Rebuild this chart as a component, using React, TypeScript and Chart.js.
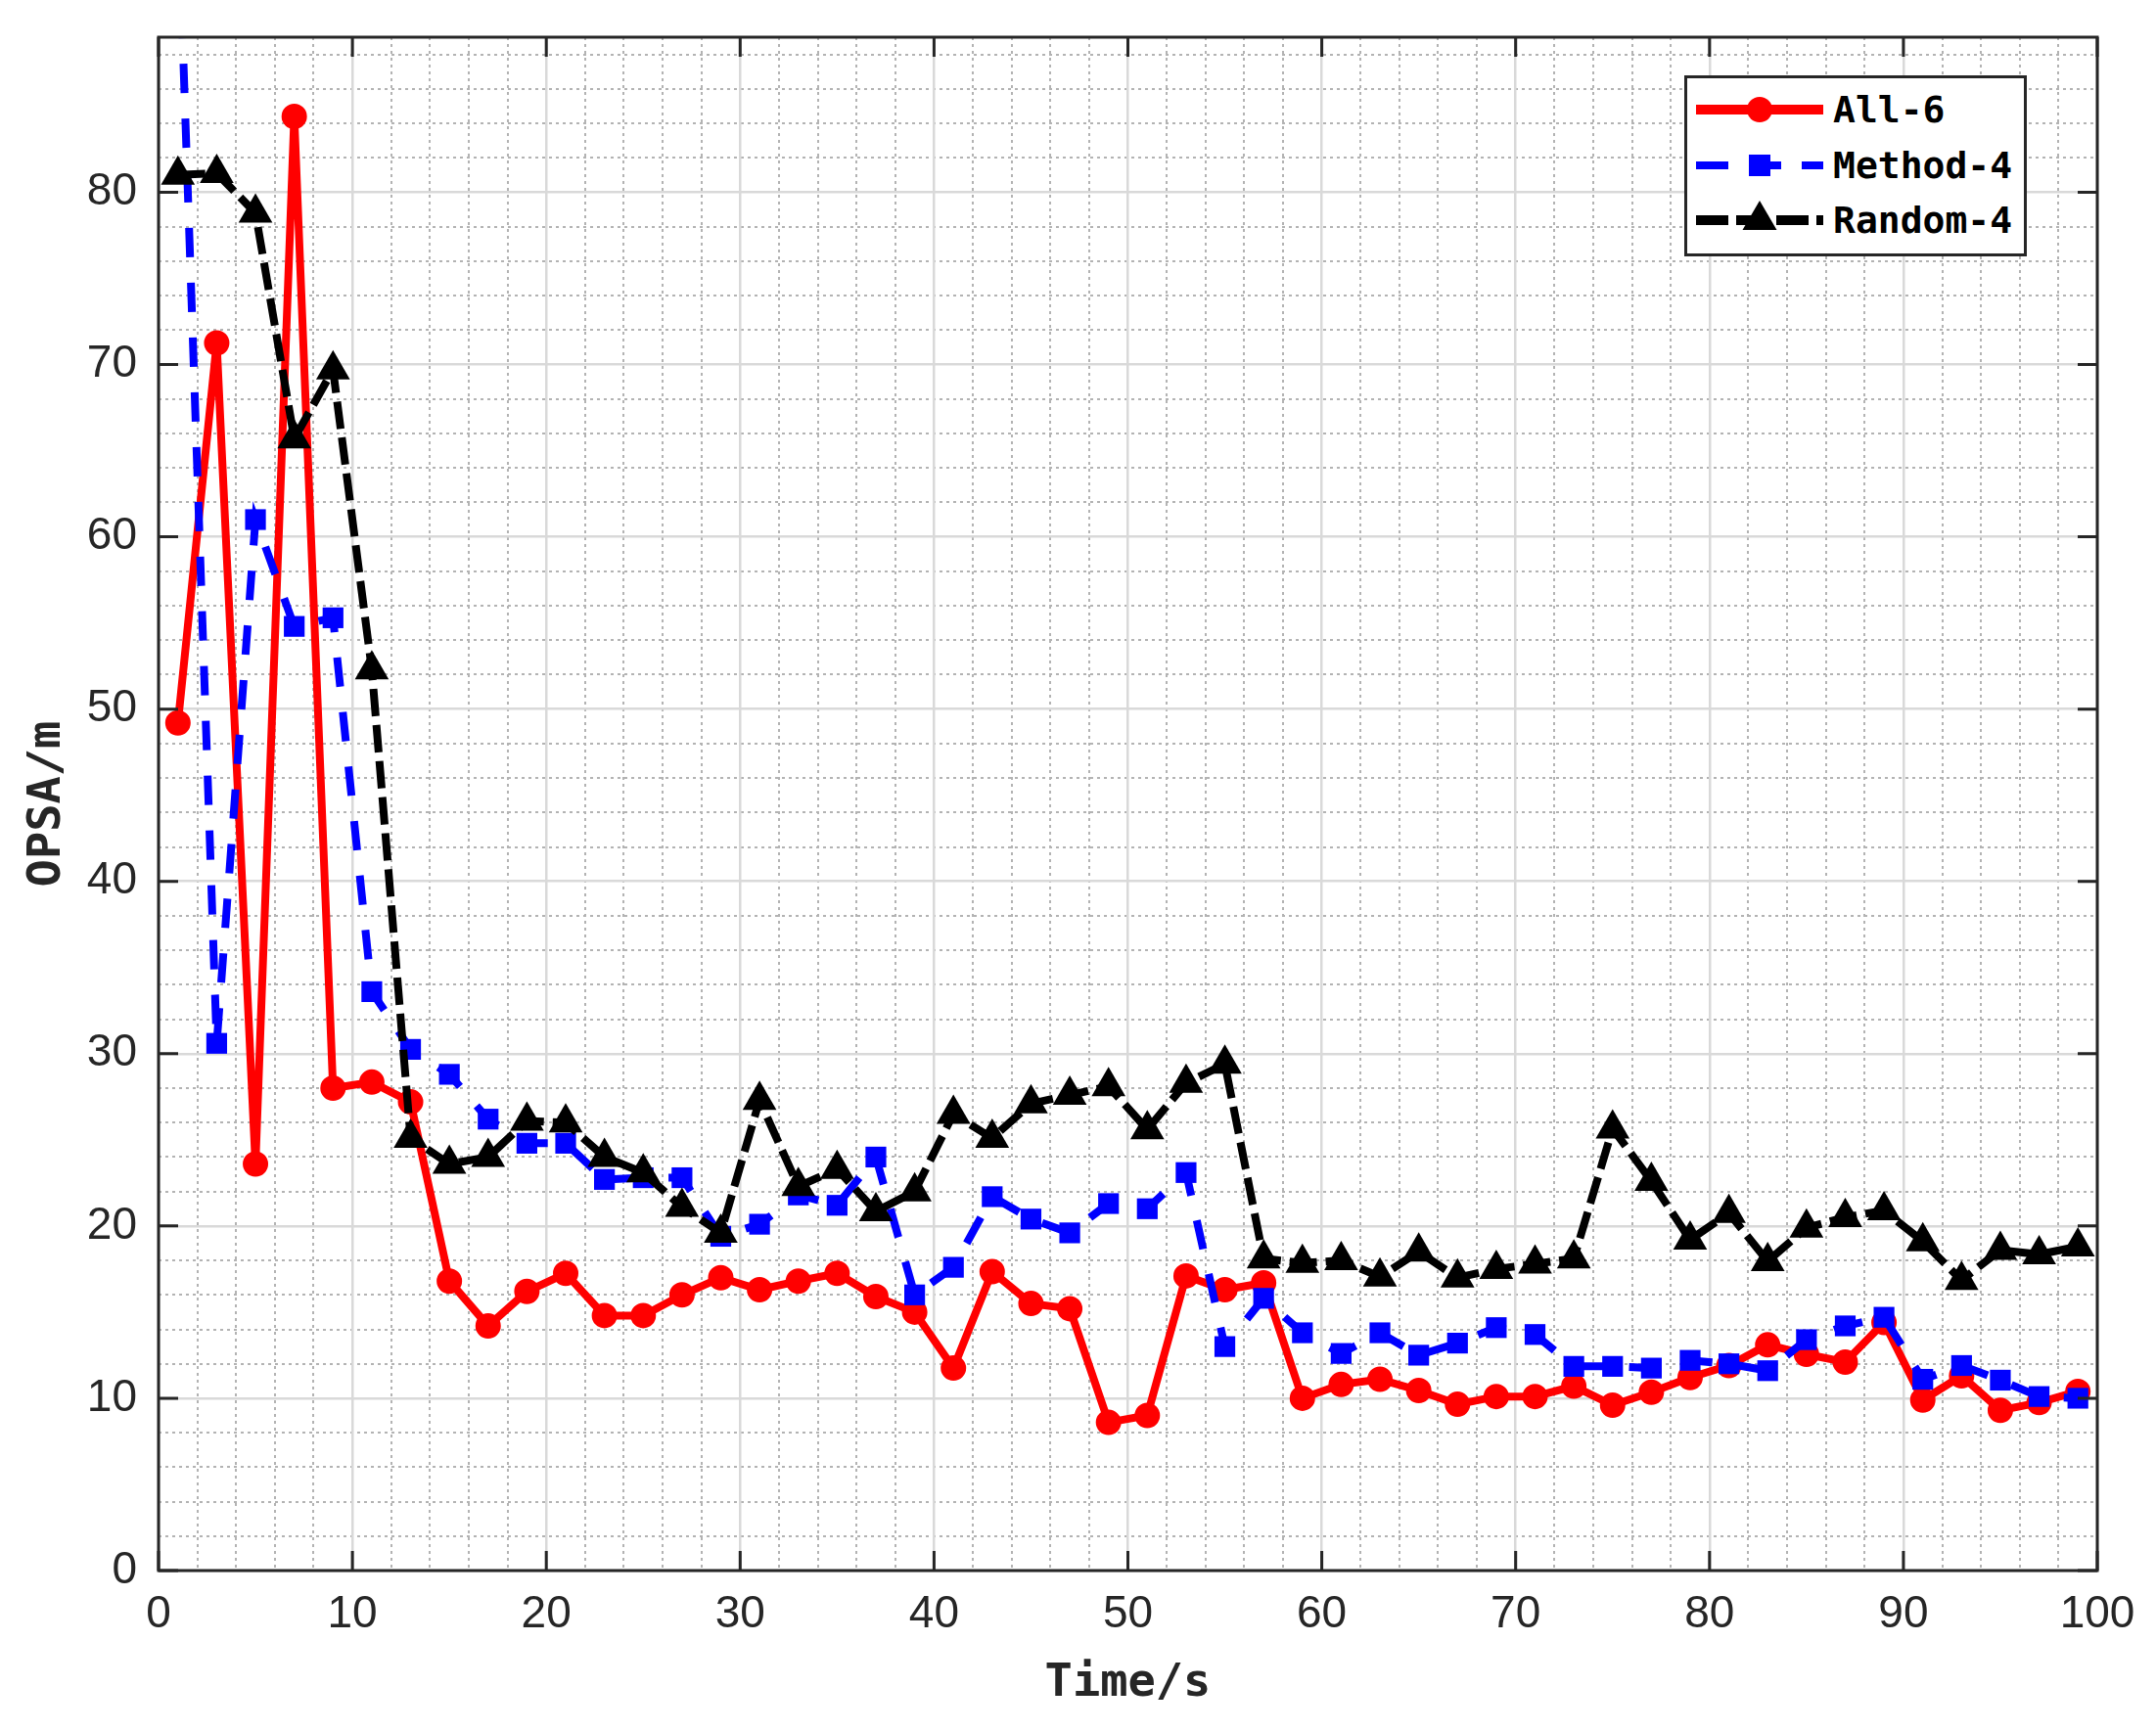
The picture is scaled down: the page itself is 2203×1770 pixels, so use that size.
import React, { useRef, useEffect } from "react";
import { Chart, registerables } from "chart.js";

Chart.register(...registerables);

// time axis (s)
const time = [
  1, 3, 5, 7, 9, 11, 13, 15, 17, 19, 21, 23, 25, 27, 29, 31, 33, 35, 37, 39,
  41, 43, 45, 47, 49, 51, 53, 55, 57, 59, 61, 63, 65, 67, 69, 71, 73, 75, 77, 79,
  81, 83, 85, 87, 89, 91, 93, 95, 97, 99,
];

const all6 = [
  49.2, 71.25, 23.6, 84.4, 28.0, 28.35, 27.2, 16.8, 14.2, 16.2,
  17.25, 14.8, 14.8, 16.0, 17.0, 16.3, 16.8, 17.25, 15.9, 15.0,
  11.75, 17.35, 15.5, 15.2, 8.6, 9.0, 17.1, 16.3, 16.7, 10.0,
  10.8, 11.1, 10.45, 9.65, 10.1, 10.1, 10.7, 9.6, 10.35, 11.2,
  11.9, 13.1, 12.55, 12.1, 14.4, 9.9, 11.3, 9.3, 9.75, 10.4,
];

const method4 = [
  97.0, 30.6, 61.0, 54.8, 55.3, 33.6, 30.25, 28.8, 26.2, 24.8,
  24.8, 22.7, 22.8, 22.8, 19.4, 20.1, 21.8, 21.2, 24.0, 16.0,
  17.6, 21.7, 20.4, 19.6, 21.3, 21.0, 23.1, 13.0, 15.8, 13.8,
  12.6, 13.8, 12.5, 13.2, 14.1, 13.7, 11.85, 11.85, 11.75, 12.2,
  12.0, 11.6, 13.4, 14.2, 14.7, 11.1, 11.9, 11.05, 10.1, 10.0,
];

const random4 = [
  81.0, 81.1, 78.8, 65.7, 69.7, 52.3, 25.1, 23.6, 24.0, 26.1,
  26.0, 24.0, 23.1, 21.1, 19.6, 27.3, 22.3, 23.3, 20.85, 22.0,
  26.5, 25.1, 27.1, 27.6, 28.1, 25.6, 28.3, 29.4, 18.1, 17.85,
  18.0, 17.05, 18.5, 17.0, 17.5, 17.8, 18.1, 25.65, 22.6, 19.2,
  20.75, 17.95, 19.9, 20.5, 20.9, 19.1, 16.85, 18.6, 18.35, 18.8,
];

const xTicks = [0, 10, 20, 30, 40, 50, 60, 70, 80, 90, 100];
const yTicks = [0, 10, 20, 30, 40, 50, 60, 70, 80];

const W = 2203;
const H = 1770;
const AXIS = "#262626";
const MONO = "'DejaVu Sans Mono', monospace";

// box + inward ticks like matlab
const framePlugin = {
  id: "frame",
  afterDatasetsDraw(chart: any) {
    const { ctx, chartArea: a, scales } = chart;
    ctx.save();
    ctx.strokeStyle = AXIS;
    ctx.lineWidth = 3;
    ctx.beginPath();
    xTicks.forEach((v) => {
      const px = scales.x.getPixelForValue(v);
      ctx.moveTo(px, a.bottom);
      ctx.lineTo(px, a.bottom - 20);
      ctx.moveTo(px, a.top);
      ctx.lineTo(px, a.top + 20);
    });
    yTicks.forEach((v) => {
      const py = scales.y.getPixelForValue(v);
      ctx.moveTo(a.left, py);
      ctx.lineTo(a.left + 20, py);
      ctx.moveTo(a.right, py);
      ctx.lineTo(a.right - 20, py);
    });
    ctx.stroke();
    ctx.strokeRect(a.left, a.top, a.right - a.left, a.bottom - a.top);
    ctx.restore();
  },
};

const minorGrid = (ctx: any) =>
  ctx.tick && ctx.tick.value % 10 === 0 ? "rgba(0,0,0,0)" : "#b3b3b3";

const noPad = (s: any) => {
  s.paddingTop = 0;
  s.paddingBottom = 0;
  s.paddingLeft = 0;
  s.paddingRight = 0;
};

const Legend = () => {
  const row = (top: number, sample: React.ReactNode, label: string) => (
    <div style={{ position: "absolute", left: 0, top, width: "100%", height: 40 }}>
      <svg width={130} height={40} style={{ position: "absolute", left: 9, top: 0 }}>
        {sample}
      </svg>
      <span
        style={{
          position: "absolute",
          left: 149,
          top: 0,
          lineHeight: "40px",
          fontFamily: MONO,
          fontWeight: "bold",
          fontSize: 38,
          color: "#000",
          whiteSpace: "nowrap",
        }}
      >
        {label}
      </span>
    </div>
  );
  return (
    <div
      style={{
        position: "absolute",
        left: 1721,
        top: 77,
        width: 350,
        height: 185,
        boxSizing: "border-box",
        border: `3px solid ${AXIS}`,
        background: "#fff",
      }}
    >
      {row(
        12,
        <>
          <line x1={0} x2={130} y1={20} y2={20} stroke="#ff0000" strokeWidth={10} />
          <circle cx={65} cy={20} r={13} fill="#ff0000" />
        </>,
        "All-6"
      )}
      {row(
        69,
        <>
          <line x1={0} x2={130} y1={20} y2={20} stroke="#0000ff" strokeWidth={8} strokeDasharray="33 21" />
          <rect x={54} y={9} width={22} height={22} fill="#0000ff" />
        </>,
        "Method-4"
      )}
      {row(
        125,
        <>
          <line x1={0} x2={130} y1={20} y2={20} stroke="#000" strokeWidth={10} strokeDasharray="33 8" />
          <polygon points="65,0 47.5,30 82.5,30" fill="#000" />
        </>,
        "Random-4"
      )}
    </div>
  );
};

const App = () => {
  const chartRef = useRef<HTMLCanvasElement | null>(null);
  const chartInstanceRef = useRef<any>(null);

  useEffect(() => {
    const ctx = chartRef.current!.getContext("2d")!;
    if (chartInstanceRef.current) chartInstanceRef.current.destroy();

    const pts = (ys: number[]) => time.map((t, i) => ({ x: t, y: ys[i] }));

    chartInstanceRef.current = new Chart(ctx, {
      type: "line",
      data: {
        datasets: [
          {
            label: "All-6",
            data: pts(all6),
            borderColor: "#ff0000",
            backgroundColor: "#ff0000",
            borderWidth: 8,
            pointStyle: "circle",
            pointRadius: 12,
            pointBorderWidth: 2,
            pointBackgroundColor: "#ff0000",
            pointBorderColor: "#ff0000",
            order: 3,
            clip: 0,
          },
          {
            label: "Method-4",
            data: pts(method4),
            borderColor: "#0000ff",
            backgroundColor: "#0000ff",
            borderWidth: 8,
            borderDash: [30, 26],
            pointStyle: "rect",
            pointRadius: 15,
            pointBorderWidth: 0,
            pointBackgroundColor: "#0000ff",
            order: 2,
            clip: 0,
          },
          {
            label: "Random-4",
            data: pts(random4),
            borderColor: "#000000",
            backgroundColor: "#000000",
            borderWidth: 8,
            borderDash: [28, 9],
            pointStyle: "triangle",
            pointRadius: 20,
            pointBorderWidth: 0,
            pointBackgroundColor: "#000000",
            order: 1,
            clip: 0,
          },
        ] as any,
      },
      options: {
        animation: false,
        responsive: false,
        devicePixelRatio: 1,
        layout: { padding: { top: 38, right: 60, left: 0, bottom: 0 } },
        plugins: { legend: { display: false }, tooltip: { enabled: false } },
        elements: { line: { tension: 0 } },
        scales: {
          xm: {
            type: "linear",
            position: "bottom",
            min: 0,
            max: 100,
            ticks: { display: false, stepSize: 2, includeBounds: false },
            grid: { color: minorGrid, lineWidth: 2, drawTicks: false },
            border: { display: false, dash: [3, 4] },
            afterFit: (s: any) => {
              s.height = 0;
              noPad(s);
            },
          },
          ym: {
            type: "linear",
            position: "left",
            min: 0,
            max: 89,
            ticks: { display: false, stepSize: 2, includeBounds: false },
            grid: { color: minorGrid, lineWidth: 2, drawTicks: false },
            border: { display: false, dash: [3, 4] },
            afterFit: (s: any) => {
              s.width = 0;
              noPad(s);
            },
          },
          x: {
            type: "linear",
            position: "bottom",
            min: 0,
            max: 100,
            afterBuildTicks: (s: any) => {
              s.ticks = xTicks.map((v) => ({ value: v }));
            },
            ticks: {
              color: AXIS,
              padding: 18,
              maxRotation: 0,
              font: { family: "'Liberation Sans', sans-serif", size: 46 },
            },
            grid: { color: "#d9d9d9", lineWidth: 2.5, drawTicks: false },
            border: { display: false },
            title: {
              display: true,
              text: "Time/s",
              color: AXIS,
              font: { family: MONO, size: 47, weight: "bold" },
              padding: { top: 0, bottom: 21 },
            },
            afterFit: (s: any) => {
              s.height = 165;
              noPad(s);
            },
          },
          y: {
            type: "linear",
            position: "left",
            min: 0,
            max: 89,
            afterBuildTicks: (s: any) => {
              s.ticks = yTicks.map((v) => ({ value: v }));
            },
            ticks: {
              color: AXIS,
              padding: 22,
              font: { family: "'Liberation Sans', sans-serif", size: 46 },
            },
            grid: { color: "#d9d9d9", lineWidth: 2.5, drawTicks: false },
            border: { display: false },
            title: {
              display: true,
              text: "OPSA/m",
              color: AXIS,
              font: { family: MONO, size: 47, weight: "bold" },
              padding: { top: 21, bottom: 0 },
            },
            afterFit: (s: any) => {
              s.width = 162;
              noPad(s);
            },
          },
        },
      },
      plugins: [framePlugin],
    } as any);

    return () => {
      if (chartInstanceRef.current) {
        chartInstanceRef.current.destroy();
        chartInstanceRef.current = null;
      }
    };
  }, []);

  return (
    <div style={{ position: "absolute", left: 0, top: 0, width: W, height: H, background: "#fff" }}>
      <canvas ref={chartRef} width={W} height={H} style={{ width: W, height: H }} />
      <Legend />
    </div>
  );
};

export default App;
